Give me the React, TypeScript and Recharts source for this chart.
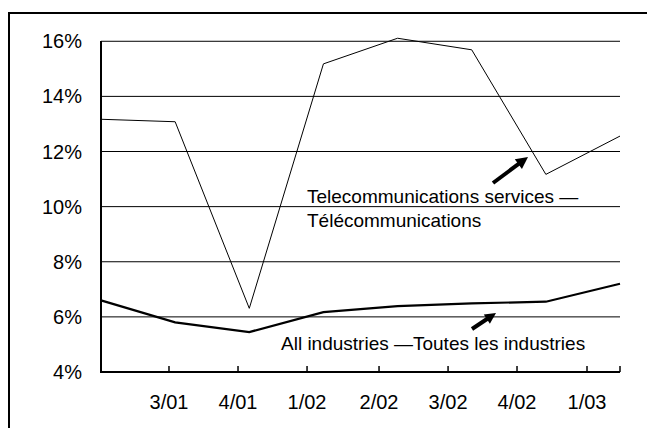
import React from "react";
import { LineChart, Line, XAxis, YAxis, CartesianGrid } from "recharts";

// quarter of each observation (the first one has no label under the axis)
const QUARTERS = ["2/01", "3/01", "4/01", "1/02", "2/02", "3/02", "4/02", "1/03"];
const TELECOM = [13.17, 13.08, 6.31, 15.18, 16.11, 15.69, 11.17, 12.56];
const ALL_INDUSTRIES = [6.6, 5.8, 5.45, 6.17, 6.39, 6.49, 6.55, 7.2];

const Y_TICKS = [4, 6, 8, 10, 12, 14, 16];
// the bottom axis ticks do not sit on the observations in the original;
// positions are in observation-index units, the last one closes the axis
const X_TICK_LABELS = ["3/01", "4/01", "1/02", "2/02", "3/02", "4/02", "1/03", ""];
const X_TICKS = [0.917, 1.848, 2.779, 3.75, 4.681, 5.611, 6.555, 7];

const FONT = "'Liberation Sans', Arial, Helvetica, sans-serif";

const rows = QUARTERS.map((q, i) => ({
  quarter: q,
  idx: i,
  telecom: TELECOM[i],
  all: ALL_INDUSTRIES[i],
}));

function Arrow({ x1, y1, x2, y2, head = 12, half = 6 }: { x1: number; y1: number; x2: number; y2: number; head?: number; half?: number }) {
  const dx = x2 - x1;
  const dy = y2 - y1;
  const len = Math.sqrt(dx * dx + dy * dy);
  const ux = dx / len;
  const uy = dy / len;
  const bx = x2 - ux * head;
  const by = y2 - uy * head;
  const px = -uy;
  const py = ux;
  const pts = `${x2},${y2} ${bx + px * half},${by + py * half} ${bx - px * half},${by - py * half}`;
  return (
    <g>
      <line x1={x1} y1={y1} x2={bx + ux * 2} y2={by + uy * 2} stroke="#000" strokeWidth={4} />
      <polygon points={pts} fill="#000" />
    </g>
  );
}

export default function App() {
  return (
    <div style={{ position: "absolute", left: 0, top: 0, width: 647, height: 428, fontFamily: FONT, background: "#fff" }}>
      <div
        style={{
          position: "absolute",
          left: 8,
          top: 12,
          width: 639,
          height: 416,
          borderLeft: "2px solid #000",
          borderTop: "2px solid #000",
          boxSizing: "border-box",
        }}
      />
      <div style={{ position: "absolute", left: 0, top: 0 }}>
        {/* y domain runs a little past 16% so the 2/02 peak can rise above the top gridline */}
        <LineChart width={647} height={428} data={rows} margin={{ top: 33, right: 27, left: 21, bottom: 26 }}>
          <CartesianGrid vertical={false} horizontalValues={Y_TICKS.slice(1)} stroke="#000" strokeWidth={1} />
          <XAxis
            dataKey="idx"
            type="number"
            domain={[0, 7]}
            ticks={X_TICKS}
            interval={0}
            height={30}
            tickFormatter={(v: number) => X_TICK_LABELS[X_TICKS.indexOf(v)] ?? ""}
            axisLine={{ stroke: "#000", strokeWidth: 2 }}
            tickLine={{ stroke: "#000", strokeWidth: 1.5 }}
            tickSize={-6}
            tickMargin={29}
            tick={{ fill: "#000", fontSize: 20, fontFamily: FONT }}
          />
          <YAxis
            domain={[4, 16.3]}
            allowDataOverflow
            ticks={Y_TICKS}
            interval={0}
            width={80}
            tickFormatter={(v: number) => `${v}%`}
            axisLine={false}
            tickLine={false}
            tickSize={0}
            tickMargin={19}
            tick={{ fill: "#000", fontSize: 20, fontFamily: FONT }}
          />
          <Line
            type="linear"
            dataKey="telecom"
            stroke="#000"
            strokeWidth={1}
            dot={false}
            isAnimationActive={false}
          />
          <Line
            type="linear"
            dataKey="all"
            stroke="#000"
            strokeWidth={2.2}
            dot={false}
            isAnimationActive={false}
          />
        </LineChart>
      </div>
      <svg width={647} height={428} style={{ position: "absolute", left: 0, top: 0, pointerEvents: "none" }}>
        {/* left value axis: from the 4% line up to the 16% line */}
        <line x1={101} y1={41} x2={101} y2={373} stroke="#000" strokeWidth={2} />
        <g fontFamily={FONT} fontSize={19} fill="#000">
          <text x={307} y={203}>Telecommunications services —</text>
          <text x={307} y={227}>Télécommunications</text>
          <text x={281} y={350}>All industries —Toutes les industries</text>
        </g>
        <Arrow x1={493} y1={183} x2={528} y2={157} />
        <Arrow x1={472} y1={329} x2={496} y2={313} head={11} half={5.5} />
      </svg>
    </div>
  );
}
